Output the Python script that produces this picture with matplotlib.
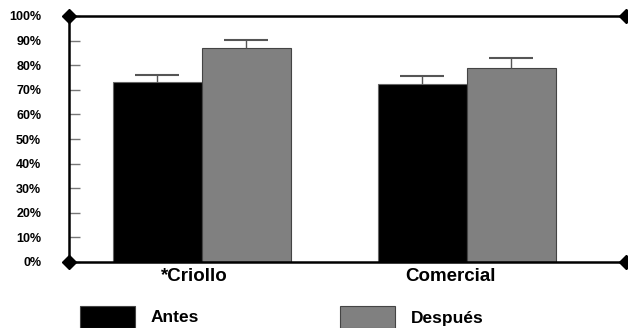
import matplotlib.pyplot as plt
from matplotlib.patches import Rectangle
import numpy as np

plt.rcParams['font.family'] = ['Liberation Sans', 'DejaVu Sans']
plt.rcParams['font.weight'] = 'bold'

categories = ['*Criollo', 'Comercial']
series = ['Antes', 'Después']
antes = [73.2, 72.4]
despues = [87.0, 79.0]
err_antes = [3.0, 3.3]
err_despues = [3.4, 4.0]
colors = ['#000000', '#808080']

fig = plt.figure(figsize=(6.28, 3.28), dpi=100)
ax = fig.add_axes([69/628, 1 - 262/328, (626 - 69)/628, (262 - 16)/328])

x = np.arange(len(categories))
w = 0.336
ax.bar(x - w/2, antes, w, color=colors[0], edgecolor='#666666', linewidth=0.8, zorder=2)
ax.bar(x + w/2, despues, w, color=colors[1], edgecolor='#444444', linewidth=0.8, zorder=2)
for xs, vals, errs in [(x - w/2, antes, err_antes), (x + w/2, despues, err_despues)]:
    eb = ax.errorbar(xs, vals, yerr=[np.zeros(2), errs], fmt='none',
                     ecolor='#555555', elinewidth=1, capsize=16, capthick=1.5, zorder=3)
    eb[1][0].set_visible(False)  # hide lower caps

ax.set_xlim(-0.502, 1.602)
ax.set_ylim(0, 100)
ax.set_yticks(np.arange(0, 101, 10))
ax.set_yticklabels([f'{v}%' for v in range(0, 101, 10)], fontsize=9, fontweight='bold')
ax.tick_params(axis='y', direction='in', length=8, width=1, color='#777777', pad=20)
# labels sit a little left of the group centres in the original
ax.set_xticks(x - np.array([0.03, 0.06]))
ax.set_xticklabels(categories, fontsize=13.5, fontweight='bold')
ax.tick_params(axis='x', length=0, pad=4)

ax.spines['right'].set_visible(False)
for s in ['left', 'top', 'bottom']:
    ax.spines[s].set_linewidth(1.8)
    ax.spines[s].set_color('black')

# diamond markers at corners
ax.plot([-0.502, -0.502, 1.602, 1.602], [0, 100, 0, 100], 'D', color='black',
        markersize=7.5, clip_on=False, zorder=5)

# legend
lx = [80/628, 340/628]
for i, name in enumerate(series):
    fig.add_artist(Rectangle((lx[i], 0), 55/628, 22/328, transform=fig.transFigure,
                             facecolor=colors[i], edgecolor='#444444', linewidth=0.8))
    fig.text(lx[i] + 71/628, 10/328, name, fontsize=12.5, fontweight='bold',
             va='center', ha='left')

fig.savefig('out.png', dpi=100)
